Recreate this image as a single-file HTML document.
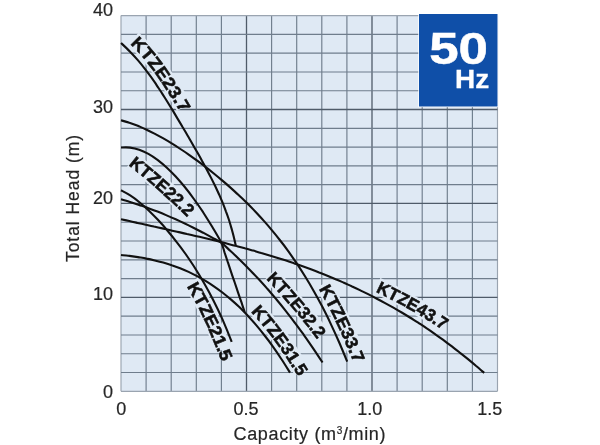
<!DOCTYPE html>
<html><head><meta charset="utf-8"><title>KTZE 50Hz</title>
<style>
html,body{margin:0;padding:0;background:#fff;}
body{width:600px;height:445px;overflow:hidden;font-family:"Liberation Sans",sans-serif;}
svg{display:block}
text{font-family:"Liberation Sans",sans-serif;}
.t{font-size:18px;fill:#262626;stroke:#262626;stroke-width:0.2px;}
.l{font-size:17.3px;font-weight:bold;fill:#111;stroke:#111;stroke-width:0.55px;}
.h{font-size:17.3px;font-weight:bold;fill:#dfe9f4;stroke:#dfe9f4;stroke-width:4px;stroke-linejoin:round;}
</style></head><body>
<svg width="600" height="445" viewBox="0 0 600 445">
<rect width="600" height="445" fill="#fff"/>
<rect x="121.0" y="15.6" width="376.5" height="375.7" fill="#dfe9f4"/>
<g stroke="#6f7d8c" stroke-width="1.15" fill="none">
<line x1="121.00" y1="15.6" x2="121.00" y2="391.3" stroke="#9aa4b0"/>
<line x1="146.10" y1="15.6" x2="146.10" y2="391.3"/>
<line x1="171.20" y1="15.6" x2="171.20" y2="391.3"/>
<line x1="196.30" y1="15.6" x2="196.30" y2="391.3"/>
<line x1="221.40" y1="15.6" x2="221.40" y2="391.3"/>
<line x1="246.50" y1="15.6" x2="246.50" y2="391.3" stroke="#4f5b69" stroke-width="1.3"/>
<line x1="271.60" y1="15.6" x2="271.60" y2="391.3"/>
<line x1="296.70" y1="15.6" x2="296.70" y2="391.3"/>
<line x1="321.80" y1="15.6" x2="321.80" y2="391.3"/>
<line x1="346.90" y1="15.6" x2="346.90" y2="391.3"/>
<line x1="372.00" y1="15.6" x2="372.00" y2="391.3" stroke="#4f5b69" stroke-width="1.3"/>
<line x1="397.10" y1="15.6" x2="397.10" y2="391.3"/>
<line x1="422.20" y1="15.6" x2="422.20" y2="391.3"/>
<line x1="447.30" y1="15.6" x2="447.30" y2="391.3"/>
<line x1="472.40" y1="15.6" x2="472.40" y2="391.3"/>
<line x1="497.50" y1="15.6" x2="497.50" y2="391.3" stroke="#9aa4b0"/>
<line x1="121.0" y1="15.60" x2="497.5" y2="15.60" stroke="#9aa4b0"/>
<line x1="121.0" y1="34.38" x2="497.5" y2="34.38"/>
<line x1="121.0" y1="53.17" x2="497.5" y2="53.17"/>
<line x1="121.0" y1="71.95" x2="497.5" y2="71.95"/>
<line x1="121.0" y1="90.74" x2="497.5" y2="90.74"/>
<line x1="121.0" y1="109.52" x2="497.5" y2="109.52" stroke="#4f5b69" stroke-width="1.3"/>
<line x1="121.0" y1="128.31" x2="497.5" y2="128.31"/>
<line x1="121.0" y1="147.09" x2="497.5" y2="147.09"/>
<line x1="121.0" y1="165.88" x2="497.5" y2="165.88"/>
<line x1="121.0" y1="184.66" x2="497.5" y2="184.66"/>
<line x1="121.0" y1="203.45" x2="497.5" y2="203.45" stroke="#4f5b69" stroke-width="1.3"/>
<line x1="121.0" y1="222.23" x2="497.5" y2="222.23"/>
<line x1="121.0" y1="241.02" x2="497.5" y2="241.02"/>
<line x1="121.0" y1="259.81" x2="497.5" y2="259.81"/>
<line x1="121.0" y1="278.59" x2="497.5" y2="278.59"/>
<line x1="121.0" y1="297.38" x2="497.5" y2="297.38" stroke="#4f5b69" stroke-width="1.3"/>
<line x1="121.0" y1="316.16" x2="497.5" y2="316.16"/>
<line x1="121.0" y1="334.95" x2="497.5" y2="334.95"/>
<line x1="121.0" y1="353.73" x2="497.5" y2="353.73"/>
<line x1="121.0" y1="372.52" x2="497.5" y2="372.52"/>
<line x1="121.0" y1="391.30" x2="497.5" y2="391.30" stroke="#9aa4b0"/>
</g>
<defs>
<path id="lp0" d="M129.9,43.9C130.8,44.8 133.8,47.7 135.6,49.6C137.4,51.4 139.0,53.2 140.7,55.2C142.5,57.1 144.2,59.2 145.9,61.3C147.5,63.3 149.2,65.4 150.8,67.5C152.4,69.6 153.9,71.6 155.4,73.7C156.9,75.8 158.4,77.9 159.8,80.1C161.3,82.2 162.7,84.4 164.1,86.6C165.6,88.7 167.0,90.9 168.4,93.1C169.7,95.2 171.1,97.4 172.5,99.6C173.8,101.8 175.1,103.9 176.5,106.1C177.8,108.3 179.1,110.5 180.4,112.7C181.8,114.9 183.1,117.1 184.4,119.3C185.7,121.5 187.0,123.7 188.3,125.9C189.6,128.1 191.5,131.4 192.2,132.5"/>
<path id="lp1" d="M128.3,165.1 Q159.8,189.8 190,220"/>
<path id="lp2" d="M186.5,286.3C187.0,287.1 188.6,289.5 189.5,291.2C190.5,292.9 191.3,294.6 192.3,296.3C193.2,298.1 194.3,300.0 195.2,301.8C196.2,303.6 197.3,305.6 198.2,307.3C199.1,309.0 199.7,310.4 200.5,312.1C201.3,313.9 202.3,315.9 203.2,317.7C204.1,319.6 205.0,321.6 205.8,323.3C206.7,325.1 207.3,326.5 208.0,328.2C208.8,330.0 209.6,332.1 210.4,334.0C211.2,335.9 212.0,337.8 212.8,339.7C213.6,341.7 214.1,343.0 215.2,345.5C216.2,348.0 217.5,351.1 218.9,354.6C220.4,358.1 222.3,362.6 223.9,366.6C225.6,370.6 228.0,376.6 228.9,378.6"/>
<path id="lp3" d="M250.7,311.8C251.4,312.6 253.7,315.1 255.2,316.8C256.7,318.4 258.1,320.0 259.5,321.6C261.0,323.3 262.4,325.1 263.8,326.8C265.1,328.5 266.5,330.1 267.8,331.8C269.2,333.5 270.6,335.4 271.9,337.1C273.2,338.9 274.4,340.5 275.7,342.3C277.0,344.1 278.3,345.9 279.6,347.7C280.8,349.5 282.0,351.3 283.2,353.1C284.4,354.9 285.7,356.8 286.9,358.6C288.1,360.5 289.2,362.3 290.3,364.1C291.5,365.9 292.2,367.0 293.8,369.6C295.4,372.1 297.8,376.0 299.9,379.3C302.0,382.7 304.2,386.1 306.3,389.5C308.4,392.9 311.6,398.0 312.7,399.7"/>
<path id="lp4" d="M265.9,279.0C266.8,279.9 269.4,282.5 271.1,284.3C272.8,286.1 274.5,288.0 276.2,289.8C277.9,291.6 279.6,293.4 281.2,295.3C282.9,297.1 284.5,299.0 286.1,300.9C287.8,302.8 289.4,304.6 291.0,306.5C292.7,308.4 294.2,310.3 295.8,312.2C297.4,314.1 299.0,316.0 300.5,317.9C302.1,319.8 303.7,321.9 305.2,323.8C306.8,325.7 308.3,327.6 309.8,329.6C311.3,331.5 312.8,333.6 314.3,335.6C315.8,337.6 317.3,339.5 318.8,341.5C320.3,343.5 321.8,345.6 323.2,347.6C324.7,349.6 326.0,351.4 327.5,353.6C329.1,355.8 331.7,359.5 332.5,360.7"/>
<path id="lp5" d="M318.8,288.7C319.3,289.7 320.9,292.7 322.0,294.7C323.1,296.7 324.2,298.7 325.3,300.7C326.4,302.8 327.5,304.9 328.5,307.0C329.6,309.0 330.6,311.0 331.6,313.1C332.6,315.1 333.6,317.1 334.6,319.2C335.6,321.3 336.6,323.5 337.6,325.6C338.6,327.7 339.5,329.7 340.4,331.8C341.4,333.9 342.4,335.9 343.3,338.0C344.2,340.1 345.1,342.3 346.0,344.5C346.9,346.6 347.8,348.7 348.7,350.8C349.5,352.9 350.4,354.9 351.3,357.1C352.2,359.3 353.2,361.7 354.2,364.1C355.2,366.5 356.3,369.0 357.3,371.5C358.3,373.9 359.3,376.4 360.4,378.8C361.4,381.3 362.9,385.0 363.4,386.2"/>
<path id="lp6" d="M375.5,291.8C376.6,292.3 379.8,293.8 381.9,294.8C384.0,295.9 386.1,296.9 388.2,298.0C390.3,299.1 392.4,300.1 394.5,301.3C396.6,302.4 398.7,303.5 400.8,304.6C402.9,305.7 405.0,306.9 407.0,308.1C409.1,309.2 411.1,310.3 413.2,311.5C415.2,312.7 417.2,313.9 419.3,315.1C421.3,316.3 423.4,317.6 425.4,318.8C427.4,320.1 429.5,321.3 431.5,322.6C433.5,323.9 435.4,325.1 437.4,326.4C439.4,327.7 441.4,329.0 443.4,330.3C445.3,331.7 447.3,333.0 449.3,334.4C451.2,335.7 453.1,337.0 455.1,338.4C457.0,339.7 458.9,341.1 460.9,342.5C462.8,344.0 465.7,346.1 466.6,346.8"/>
</defs>
<g stroke="#dfe9f4" stroke-width="16.5" fill="none" stroke-linecap="butt">
<path d="M133.3,38.6C134.1,39.3 136.2,41.3 137.7,42.7C139.1,44.2 140.7,46.0 142.1,47.5C143.6,49.1 144.9,50.5 146.3,52.1C147.6,53.6 148.9,55.3 150.3,56.9C151.6,58.5 153.1,60.3 154.3,61.9C155.6,63.5 156.6,65.0 157.8,66.6C159.1,68.2 160.4,70.0 161.6,71.7C162.7,73.4 163.8,74.9 164.9,76.5C166.0,78.2 167.3,80.0 168.4,81.7C169.5,83.4 170.5,84.9 171.6,86.6C172.7,88.3 173.8,90.0 174.9,91.8C175.9,93.5 177.0,95.2 178.1,96.9C179.1,98.6 180.1,100.2 181.1,101.9C182.2,103.6 183.7,106.1 184.2,107.0"/>
<path d="M132.1,160.2C133.0,160.9 135.5,162.9 137.2,164.3C138.9,165.6 140.6,167.0 142.3,168.4C144.0,169.8 145.7,171.2 147.4,172.6C149.1,174.0 150.8,175.4 152.4,176.8C154.1,178.3 155.8,179.7 157.5,181.2C159.2,182.6 160.8,184.1 162.5,185.6C164.2,187.0 165.8,188.5 167.5,190.0C169.2,191.5 170.8,193.1 172.5,194.6C174.1,196.1 175.8,197.7 177.5,199.2C179.1,200.8 180.8,202.3 182.4,203.9C184.0,205.5 185.7,207.1 187.3,208.7C189.0,210.2 191.4,212.7 192.2,213.5C193.1,214.3 192.2,213.5 192.2,213.5"/>
<path d="M191.1,281.8C191.6,282.6 193.1,285.2 194.1,286.7C195.0,288.3 195.7,289.7 196.6,291.3C197.5,292.9 198.4,294.6 199.3,296.3C200.2,298.0 201.2,299.8 202.1,301.4C202.9,303.0 203.7,304.4 204.5,306.0C205.3,307.6 206.1,309.5 206.9,311.2C207.7,312.9 208.6,314.6 209.4,316.4C210.2,318.1 211.1,319.9 211.9,321.6C212.6,323.2 213.2,324.6 214.0,326.3C214.7,328.0 215.4,329.8 216.1,331.6C216.9,333.4 217.6,335.2 218.3,336.9C219.1,338.7 219.7,340.1 220.5,342.2C221.4,344.3 223.0,348.3 223.5,349.5"/>
<path d="M254.3,306.7C255.0,307.4 257.1,309.6 258.4,311.0C259.6,312.4 260.7,313.6 262.0,315.1C263.2,316.5 264.6,318.1 265.8,319.5C267.0,320.9 268.1,322.3 269.2,323.7C270.4,325.1 271.5,326.4 272.6,327.9C273.8,329.3 275.1,331.0 276.2,332.5C277.3,334.0 278.3,335.4 279.4,336.9C280.5,338.4 281.8,340.1 282.9,341.6C283.9,343.1 284.9,344.5 285.9,346.0C286.9,347.5 287.9,348.9 288.9,350.5C290.0,352.0 291.1,353.8 292.1,355.3C293.1,356.9 294.0,358.4 295.0,359.9C296.0,361.4 296.7,362.6 297.9,364.5C299.0,366.3 301.3,369.9 302.0,371.0"/>
<path d="M270.1,274.4C270.7,275.0 272.6,276.9 273.8,278.2C275.1,279.5 276.5,281.0 277.7,282.3C279.0,283.7 280.2,284.9 281.4,286.3C282.6,287.6 283.8,288.8 285.0,290.2C286.2,291.6 287.6,293.1 288.8,294.4C290.0,295.8 291.1,297.1 292.3,298.5C293.5,299.8 294.7,301.2 295.9,302.6C297.1,304.0 298.3,305.5 299.5,306.9C300.6,308.3 301.7,309.6 302.9,311.0C304.1,312.4 305.3,314.0 306.5,315.4C307.7,316.8 308.7,318.2 309.8,319.6C310.9,321.0 312.0,322.4 313.1,323.8C314.3,325.3 315.5,326.8 316.6,328.3C317.8,329.8 319.3,331.9 319.9,332.6"/>
<path d="M323.2,283.9C323.7,284.8 325.3,287.7 326.3,289.5C327.3,291.3 328.2,293.0 329.1,294.8C330.1,296.5 331.0,298.2 332.0,300.0C332.9,301.9 333.9,303.9 334.9,305.7C335.8,307.6 336.6,309.3 337.5,311.1C338.4,312.9 339.3,314.6 340.2,316.4C341.1,318.3 342.0,320.4 342.9,322.2C343.8,324.1 344.6,325.9 345.4,327.7C346.2,329.5 347.0,331.2 347.9,333.1C348.7,335.0 349.6,337.0 350.4,338.9C351.2,340.8 352.0,342.6 352.7,344.5C353.5,346.3 354.3,348.1 355.0,350.0C355.8,351.8 357.0,354.6 357.3,355.5"/>
<path d="M377.4,285.8C378.2,286.1 380.5,287.2 382.0,288.0C383.5,288.7 385.1,289.5 386.6,290.2C388.2,291.0 389.7,291.8 391.2,292.5C392.8,293.3 394.2,294.1 395.8,294.9C397.3,295.7 398.9,296.5 400.4,297.3C401.9,298.1 403.3,298.9 404.8,299.7C406.3,300.5 407.9,301.4 409.4,302.2C410.9,303.1 412.3,303.9 413.8,304.7C415.2,305.5 416.8,306.5 418.3,307.3C419.8,308.2 421.2,309.0 422.6,309.9C424.1,310.7 425.7,311.7 427.1,312.6C428.6,313.5 429.9,314.3 431.4,315.2C432.8,316.1 434.4,317.1 435.9,318.0C437.3,318.9 438.6,319.8 440.1,320.7C441.5,321.6 443.7,323.1 444.5,323.6"/>
</g>
<g stroke="#111" stroke-width="2.1" fill="none" stroke-linecap="butt">
<path d="M121.0,43.0C122.5,44.4 127.1,48.6 129.8,51.4C132.6,54.2 135.1,57.0 137.6,59.9C140.0,62.7 142.3,65.5 144.5,68.3C146.7,71.1 148.8,73.9 150.8,76.7C152.8,79.5 154.8,82.3 156.6,85.1C158.5,88.0 160.4,90.8 162.2,93.6C164.0,96.4 165.7,99.2 167.5,102.0C169.2,104.8 170.9,107.6 172.7,110.4C174.4,113.2 176.0,116.1 177.7,118.9C179.4,121.7 181.1,124.5 182.7,127.3C184.4,130.1 186.1,132.9 187.7,135.7C189.3,138.5 191.0,141.3 192.6,144.2C194.2,147.0 195.8,149.8 197.4,152.6C199.0,155.4 200.6,158.2 202.1,161.0C203.7,163.8 205.2,166.6 206.7,169.4C208.2,172.2 209.7,175.1 211.1,177.9C212.5,180.7 213.9,183.5 215.3,186.3C216.6,189.1 217.9,191.9 219.2,194.7C220.4,197.5 221.6,200.3 222.8,203.2C223.9,206.0 225.0,208.8 226.0,211.6C227.1,214.4 228.1,217.2 229.0,220.0C229.9,222.8 230.7,225.6 231.5,228.4C232.3,231.3 233.1,234.1 233.8,236.9C234.5,239.7 235.4,243.9 235.7,245.3"/>
<path d="M121.0,120.3C122.4,120.7 126.6,121.8 129.4,122.8C132.2,123.7 135.0,124.7 137.8,125.8C140.5,127.0 143.3,128.2 146.1,129.5C148.9,130.8 151.7,132.2 154.5,133.6C157.3,135.1 160.1,136.6 162.9,138.2C165.7,139.8 168.5,141.4 171.3,143.2C174.1,144.9 176.9,146.7 179.6,148.5C182.4,150.3 185.2,152.2 188.0,154.1C190.8,156.1 193.6,158.1 196.4,160.1C199.2,162.2 202.0,164.2 204.8,166.4C207.6,168.5 210.4,170.7 213.2,173.0C215.9,175.2 218.7,177.5 221.5,179.9C224.3,182.2 227.1,184.6 229.9,187.1C232.7,189.6 235.5,192.1 238.3,194.8C241.1,197.4 243.9,200.1 246.7,202.8C249.5,205.6 252.3,208.4 255.0,211.3C257.8,214.3 260.6,217.3 263.4,220.4C266.2,223.5 269.0,226.7 271.8,230.1C274.6,233.4 277.4,236.9 280.2,240.5C283.0,244.0 285.8,247.7 288.6,251.6C291.3,255.5 294.1,259.5 296.9,263.6C299.7,267.8 302.5,272.2 305.3,276.7C308.1,281.2 310.9,285.9 313.7,290.9C316.5,295.8 319.3,300.9 322.1,306.3C324.9,311.7 327.7,317.2 330.4,323.1C333.2,329.0 336.0,335.1 338.8,341.5C341.6,347.9 345.8,358.2 347.2,361.6"/>
<path d="M121.0,147.5C122.5,147.5 127.1,147.2 130.1,147.6C133.2,148.0 136.2,148.7 139.2,149.8C142.3,150.9 145.3,152.3 148.4,153.9C151.4,155.6 154.4,157.6 157.5,159.8C160.5,162.1 163.6,164.6 166.6,167.4C169.6,170.2 172.7,173.2 175.7,176.5C178.7,179.8 181.8,183.3 184.8,187.0C187.9,190.8 190.9,194.8 193.9,199.0C197.0,203.2 200.0,207.6 203.1,212.2C206.1,216.9 209.1,221.7 212.2,226.8C215.2,231.9 219.2,238.4 221.3,242.7C223.4,247.0 223.5,249.4 224.6,252.7C225.8,256.0 226.9,259.4 228.0,262.7C229.1,266.0 230.2,269.3 231.3,272.6C232.4,276.0 233.6,279.3 234.7,282.5C235.8,285.8 236.9,289.1 238.0,292.4C239.1,295.7 240.2,299.0 241.4,302.2C242.5,305.5 244.1,310.4 244.7,312.0"/>
<path d="M121.0,190.3C122.5,191.1 127.1,193.4 130.2,195.4C133.3,197.4 136.4,199.7 139.4,202.2C142.5,204.7 145.6,207.5 148.7,210.4C151.8,213.4 154.8,216.5 157.9,219.8C161.0,223.1 164.1,226.5 167.1,230.2C170.2,233.8 173.3,237.6 176.3,241.6C179.4,245.5 182.5,249.6 185.6,254.0C188.6,258.4 191.7,262.9 194.8,267.7C197.9,272.5 200.9,277.5 204.0,282.9C207.1,288.3 210.2,293.9 213.2,300.0C216.3,306.1 219.4,312.5 222.5,319.4C225.5,326.4 230.2,338.0 231.7,341.8"/>
<path d="M121.0,199.2C122.5,199.6 127.1,201.0 130.1,201.9C133.2,202.9 136.2,203.9 139.2,204.9C142.3,206.0 145.3,207.0 148.4,208.2C151.4,209.3 154.4,210.4 157.5,211.6C160.5,212.8 163.6,214.1 166.6,215.4C169.6,216.7 172.7,218.0 175.7,219.3C178.7,220.7 181.8,222.1 184.8,223.5C187.9,225.0 190.9,226.5 193.9,228.0C197.0,229.5 200.0,231.1 203.1,232.7C206.1,234.3 209.1,235.9 212.2,237.6C215.2,239.3 218.2,240.5 221.3,242.7C224.4,245.0 227.4,248.2 230.5,251.0C233.6,253.8 236.6,256.7 239.7,259.7C242.8,262.7 245.8,265.7 248.9,268.9C252.0,272.0 255.0,275.2 258.1,278.5C261.2,281.8 264.2,285.2 267.3,288.7C270.4,292.2 273.4,295.8 276.5,299.5C279.6,303.2 282.6,306.9 285.7,310.8C288.8,314.7 291.8,318.7 294.9,322.8C298.0,326.8 301.0,331.0 304.1,335.3C307.2,339.6 310.2,344.0 313.3,348.6C316.4,353.1 321.0,360.2 322.5,362.5"/>
<path d="M121.0,219.2C122.4,219.5 126.5,220.4 129.3,221.0C132.0,221.7 134.8,222.3 137.5,222.9C140.3,223.5 143.0,224.1 145.8,224.7C148.5,225.3 151.3,225.9 154.0,226.6C156.8,227.2 159.5,227.8 162.3,228.4C165.0,229.0 167.8,229.6 170.5,230.2C173.3,230.8 176.0,231.5 178.8,232.1C181.5,232.7 184.3,233.3 187.0,234.0C189.8,234.6 192.5,235.2 195.3,235.9C198.0,236.5 200.8,237.2 203.5,237.8C206.3,238.5 209.0,239.1 211.8,239.8C214.6,240.5 217.3,241.1 220.1,241.8C222.8,242.5 225.6,243.2 228.3,243.9C231.1,244.6 233.8,245.3 236.6,246.1C239.3,246.8 242.1,247.5 244.8,248.3C247.6,249.0 250.3,249.8 253.1,250.6C255.8,251.4 258.6,252.1 261.3,253.0C264.1,253.8 266.8,254.6 269.6,255.4C272.3,256.3 275.1,257.1 277.8,258.0C280.6,258.9 283.3,259.7 286.1,260.6C288.8,261.6 291.6,262.5 294.3,263.4C297.1,264.4 299.8,265.3 302.6,266.3C305.4,267.3 308.1,268.3 310.9,269.3C313.6,270.3 316.4,271.4 319.1,272.5C321.9,273.5 324.6,274.6 327.4,275.7C330.1,276.9 332.9,278.0 335.6,279.2C338.4,280.3 341.1,281.5 343.9,282.7C346.6,284.0 349.4,285.2 352.1,286.5C354.9,287.7 357.6,289.0 360.4,290.4C363.1,291.7 365.9,293.0 368.6,294.4C371.4,295.8 374.1,297.2 376.9,298.7C379.6,300.1 382.4,301.6 385.1,303.1C387.9,304.6 390.6,306.1 393.4,307.7C396.2,309.3 398.9,310.9 401.7,312.5C404.4,314.1 407.2,315.8 409.9,317.5C412.7,319.2 415.4,321.0 418.2,322.7C420.9,324.5 423.7,326.3 426.4,328.2C429.2,330.0 431.9,331.9 434.7,333.9C437.4,335.8 440.2,337.7 442.9,339.7C445.7,341.8 448.4,343.8 451.2,345.9C453.9,348.0 456.7,350.1 459.4,352.3C462.2,354.4 464.9,356.6 467.7,358.9C470.4,361.1 473.2,363.4 475.9,365.8C478.7,368.1 482.8,371.7 484.2,372.9"/>
<path d="M121.0,255.0C122.4,255.2 126.6,255.6 129.4,255.9C132.3,256.3 135.1,256.7 137.9,257.1C140.7,257.6 143.5,258.0 146.3,258.6C149.2,259.1 152.0,259.7 154.8,260.4C157.6,261.1 160.4,261.8 163.2,262.6C166.1,263.4 168.9,264.2 171.7,265.2C174.5,266.1 177.3,267.2 180.1,268.3C183.0,269.4 185.8,270.6 188.6,271.9C191.4,273.2 194.2,274.6 197.1,276.1C199.9,277.6 202.7,279.2 205.5,280.9C208.3,282.6 211.1,284.4 213.9,286.3C216.8,288.3 219.6,290.3 222.4,292.5C225.2,294.7 228.0,297.0 230.8,299.4C233.7,301.9 236.5,304.4 239.3,307.1C242.1,309.8 244.9,312.7 247.8,315.7C250.6,318.7 253.4,321.8 256.2,325.1C259.0,328.4 261.8,331.8 264.6,335.5C267.5,339.1 270.3,342.8 273.1,346.8C275.9,350.7 278.7,354.9 281.5,359.2C284.4,363.5 288.6,370.4 290.0,372.6"/>
</g>
<text class="l"><textPath href="#lp0" textLength="86.5" lengthAdjust="spacingAndGlyphs">KTZE23.7</textPath></text>
<text class="l"><textPath href="#lp1" textLength="79" lengthAdjust="spacingAndGlyphs">KTZE22.2</textPath></text>
<text class="l"><textPath href="#lp2" textLength="84" lengthAdjust="spacingAndGlyphs">KTZE21.5</textPath></text>
<text class="l"><textPath href="#lp3" textLength="81" lengthAdjust="spacingAndGlyphs">KTZE31.5</textPath></text>
<text class="l"><textPath href="#lp4" textLength="79.5" lengthAdjust="spacingAndGlyphs">KTZE32.2</textPath></text>
<text class="l"><textPath href="#lp5" textLength="83" lengthAdjust="spacingAndGlyphs">KTZE33.7</textPath></text>
<text class="l"><textPath href="#lp6" textLength="78" lengthAdjust="spacingAndGlyphs">KTZE43.7</textPath></text>
<rect x="418.3" y="13.3" width="79.9" height="93.9" fill="#fff"/>
<rect x="419" y="14" width="78.5" height="92.5" fill="#0f4fa8"/>
<text x="429.2" y="63.6" font-size="44" font-weight="bold" fill="#fff" stroke="#fff" stroke-width="0.5" textLength="58.8" lengthAdjust="spacingAndGlyphs">50</text>
<text x="455" y="87.7" font-size="25.5" font-weight="bold" fill="#fff" stroke="#fff" stroke-width="0.3" textLength="34.2" lengthAdjust="spacingAndGlyphs">Hz</text>
<text class="t" x="113" y="16.3" text-anchor="end">40</text>
<text class="t" x="113" y="113.3" text-anchor="end">30</text>
<text class="t" x="113" y="204" text-anchor="end">20</text>
<text class="t" x="113" y="300.4" text-anchor="end">10</text>
<text class="t" x="113" y="397.7" text-anchor="end">0</text>
<text class="t" x="116.2" y="415">0</text>
<text class="t" x="233.4" y="415">0.5</text>
<text class="t" x="357.3" y="415">1.0</text>
<text class="t" x="477.2" y="415">1.5</text>
<text class="t" x="233.5" y="439.7" style="font-size:18px" textLength="152" lengthAdjust="spacing">Capacity (m<tspan dy="-6" style="font-size:10px">3</tspan><tspan dy="6">/min)</tspan></text>
<text class="t" transform="translate(79.2,262) rotate(-90)" style="font-size:17.5px" textLength="127" lengthAdjust="spacing">Total Head (m)</text>
</svg></body></html>
